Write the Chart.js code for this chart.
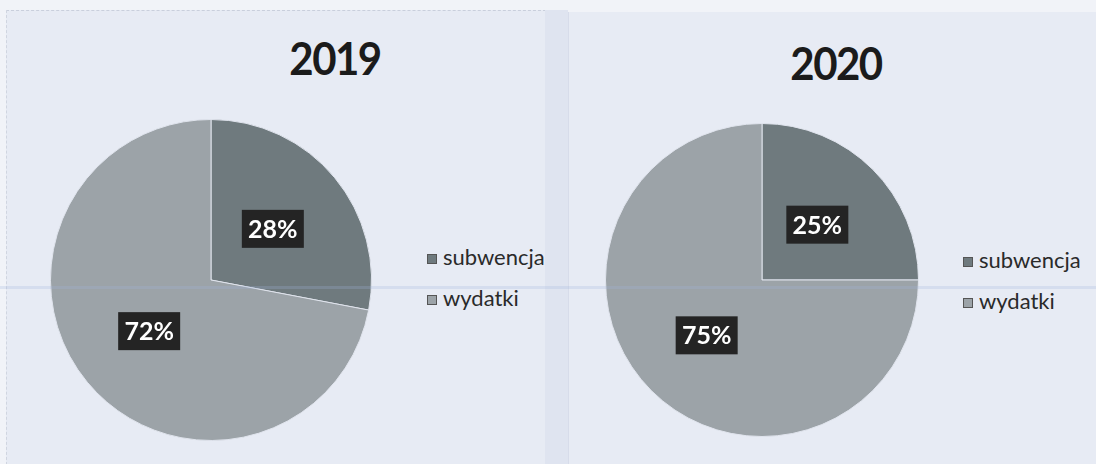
<!DOCTYPE html>
<html>
<head>
<meta charset="utf-8">
<script src="https://cdn.jsdelivr.net/npm/chart.js@4"></script>
<style>
  body { margin: 0; width: 1096px; height: 464px; background: #f1f3f8; position: relative; overflow: hidden; font-family: Lato, "Open Sans", sans-serif; }
  .panel { position: absolute; background: #e7ebf4; }
  #p1 { left: 6px; top: 10px; width: 539px; height: 454px; border-top: 1px dashed #c9cfdc; border-left: 1px dashed #d0d5e0; }
  #p2 { left: 568px; top: 12px; width: 528px; height: 452px; border-left: 1px solid #d7dcea; }
  .gap { position: absolute; left: 545px; top: 10px; width: 23px; height: 454px; background: #dfe4f0; }
  .title { position: absolute; font-weight: 700; font-size: 42px; color: #1b1b1b; letter-spacing: -1.5px; transform: translateX(-50%) scaleY(1.1); }
  canvas { position: absolute; }
  .legend { position: absolute; font-size: 22px; color: #2a2a2a; }
  .legend div { height: 41px; line-height: 20px; white-space: nowrap; }
  .legend span { display: inline-block; width: 10px; height: 10px; margin-right: 6px; vertical-align: 1px; border: 1px solid #555; box-sizing: border-box; }
  .scanline { position: absolute; left: 0; top: 286px; width: 1096px; height: 3px; background: rgba(160,178,220,0.25); }
</style>
</head>
<body>
<div class="panel" id="p1"></div>
<div class="gap"></div>
<div class="panel" id="p2"></div>

<div class="title" id="t1" style="left:335px; top:32px;"></div>
<div class="title" id="t2" style="left:836px; top:37px;"></div>

<canvas id="pie1" width="340" height="340" style="left:41px; top:110px;"></canvas>
<canvas id="pie2" width="340" height="340" style="left:592px; top:110px;"></canvas>

<div class="legend" id="leg1" style="left:427px; top:247px;"></div>
<div class="legend" id="leg2" style="left:963px; top:250px;"></div>
<div class="scanline"></div>

<script>
var years = ['2019', '2020'];
var categories = ['subwencja', 'wydatki'];
var values2019 = [28, 72];
var values2020 = [25, 75];
var sliceColors = ['#6f7a7e', '#9ca3a8'];

// dark box with white percentage, at the middle of each slice
var boxLabels = {
  id: 'boxLabels',
  afterDatasetsDraw: function(chart) {
    var ctx = chart.ctx;
    var meta = chart.getDatasetMeta(0);
    var data = chart.data.datasets[0].data;
    var total = data.reduce(function(a, b) { return a + b; }, 0);
    ctx.save();
    ctx.font = 'bold 25px Lato, "Open Sans", sans-serif';
    ctx.textAlign = 'center';
    ctx.textBaseline = 'middle';
    meta.data.forEach(function(arc, i) {
      var p = arc.tooltipPosition();
      var txt = Math.round(data[i] / total * 100) + '%';
      ctx.fillStyle = '#242424';
      ctx.fillRect(p.x - 31, p.y - 19, 62, 38);
      ctx.fillStyle = '#ffffff';
      ctx.fillText(txt, p.x, p.y + 1);
    });
    ctx.restore();
  }
};

function makePie(id, values, pad) {
  return new Chart(document.getElementById(id), {
    type: 'pie',
    data: {
      labels: categories,
      datasets: [{
        data: values,
        backgroundColor: sliceColors,
        borderColor: '#dfe3ec',
        borderWidth: 1
      }]
    },
    options: {
      responsive: false,
      animation: false,
      layout: { padding: pad },
      plugins: {
        legend: { display: false },
        tooltip: { enabled: false }
      }
    },
    plugins: [boxLabels]
  });
}

function makeLegend(id) {
  var el = document.getElementById(id);
  categories.forEach(function(c, i) {
    var row = document.createElement('div');
    var sw = document.createElement('span');
    sw.style.background = sliceColors[i];
    row.appendChild(sw);
    row.appendChild(document.createTextNode(c));
    el.appendChild(row);
  });
}

document.getElementById('t1').textContent = years[0];
document.getElementById('t2').textContent = years[1];
makePie('pie1', values2019, 9);
makePie('pie2', values2020, 13);
makeLegend('leg1');
makeLegend('leg2');
</script>
</body>
</html>
